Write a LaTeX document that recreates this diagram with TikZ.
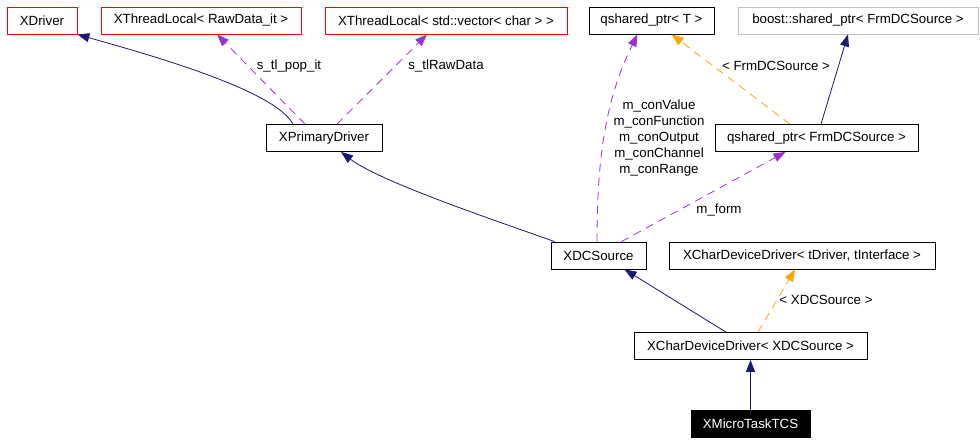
\documentclass[tikz,border=0pt]{standalone}
\usepackage{fontspec}
\setmainfont{Liberation Sans}
\usetikzlibrary{arrows.meta}
\definecolor{edgenavy}{HTML}{191970}
\definecolor{edgepurple}{HTML}{9A32CD}
\definecolor{edgeorange}{HTML}{FFA500}
\definecolor{boxgray}{HTML}{BFBFBF}
\tikzset{
  cls/.style={draw=black, line width=0.8pt, minimum height=27pt, inner sep=0pt, fill=white,
              font=\fontsize{13.3}{16}\selectfont},
  extcls/.style={cls, draw=red},
  grycls/.style={cls, draw=boxgray},
  curcls/.style={cls, fill=black, text=white},
  inherit/.style={draw=edgenavy, line width=0.8pt, -{Triangle[length=12pt,width=9pt]}},
  usage/.style={draw=edgepurple, line width=0.8pt, dash pattern=on 8pt off 6pt,
                -{Triangle[length=12pt,width=9pt]}},
  templ/.style={draw=edgeorange, line width=0.8pt, dash pattern=on 8pt off 6pt,
                -{Triangle[length=12pt,width=9pt]}},
  lbl/.style={font=\fontsize{13.3}{16}\selectfont, inner sep=0pt, align=center}
}
\begin{document}
\begin{tikzpicture}[x=1pt,y=-1pt]
\useasboundingbox (0,0) rectangle (980,444);
% nodes
\node[extcls, minimum width=70pt]  (XDriver) at (42,20.5) {XDriver};
\node[extcls, minimum width=200pt] (TLraw)   at (201,20.5) {XThreadLocal< RawData\_it >};
\node[extcls, minimum width=242pt] (TLvec)   at (446,20.5) {XThreadLocal< std::vector< char > >};
\node[cls, minimum width=125pt]    (qT)      at (651.5,20.5) {qshared\_ptr< T >};
\node[grycls, minimum width=240pt] (boost)   at (858,20.5) {boost::shared\_ptr< FrmDCSource >};
\node[cls, minimum width=116pt]    (XPD)     at (324,138) {XPrimaryDriver};
\node[cls, minimum width=203pt]    (qF)      at (816.5,138) {qshared\_ptr< FrmDCSource >};
\node[cls, minimum width=95pt]     (XDC)     at (598.5,255.5) {XDCSource};
\node[cls, minimum width=266pt]    (XCDt)    at (802,255.5) {XCharDeviceDriver< tDriver, tInterface >};
\node[cls, minimum width=233pt]    (XCDx)    at (750.5,346) {XCharDeviceDriver< XDCSource >};
\node[curcls, minimum width=119pt] (XMT)     at (750.5,424) {XMicroTaskTCS};
% edges
\draw[inherit] ([xshift=-31pt]XPD.north) .. controls (275,90) and (150,55) .. (XDriver.south east);
\draw[usage] ([xshift=-19pt]XPD.north) -- ([xshift=16pt]TLraw.south);
\draw[usage] ([xshift=13pt]XPD.north) -- ([xshift=-19pt]TLvec.south);
\draw[inherit] ([xshift=4pt]XDC.north west) .. controls (500,222) and (380,182) .. ([xshift=17pt]XPD.south);
\draw[usage] ([xshift=-1.5pt]XDC.north) .. controls (597,160) and (605,100) .. ([xshift=-14pt]qT.south);
\draw[usage] ([xshift=23pt]XDC.north) -- ([xshift=-31pt]qF.south);
\draw[templ] ([xshift=-26.5pt]qF.north) -- ([xshift=20pt]qT.south);
\draw[inherit] ([xshift=4.5pt]qF.north) -- ([xshift=-10pt]boost.south);
\draw[inherit] ([xshift=-24.5pt]XCDx.north) -- ([xshift=26pt]XDC.south);
\draw[templ] ([xshift=7.5pt]XCDx.north) -- ([xshift=-7pt]XCDt.south);
\draw[inherit] (XMT.north) -- (XCDx.south);
% labels
\node[lbl] (l1) at (289,66) {s\_tl\_pop\_it};
\node[lbl] (l2) at (446,66) {s\_tlRawData};
\node[lbl] (l3) at (776,66) {< FrmDCSource >};
\node[lbl] (l4) at (659,106) {m\_conValue};
\node[lbl] (l5) at (659,122) {m\_conFunction};
\node[lbl] (l6) at (659,138) {m\_conOutput};
\node[lbl] (l7) at (659,154) {m\_conChannel};
\node[lbl] (l8) at (659,170) {m\_conRange};
\node[lbl] (l9) at (719,210) {m\_form};
\node[lbl] (l10) at (826,300) {< XDCSource >};
\end{tikzpicture}
\end{document}
